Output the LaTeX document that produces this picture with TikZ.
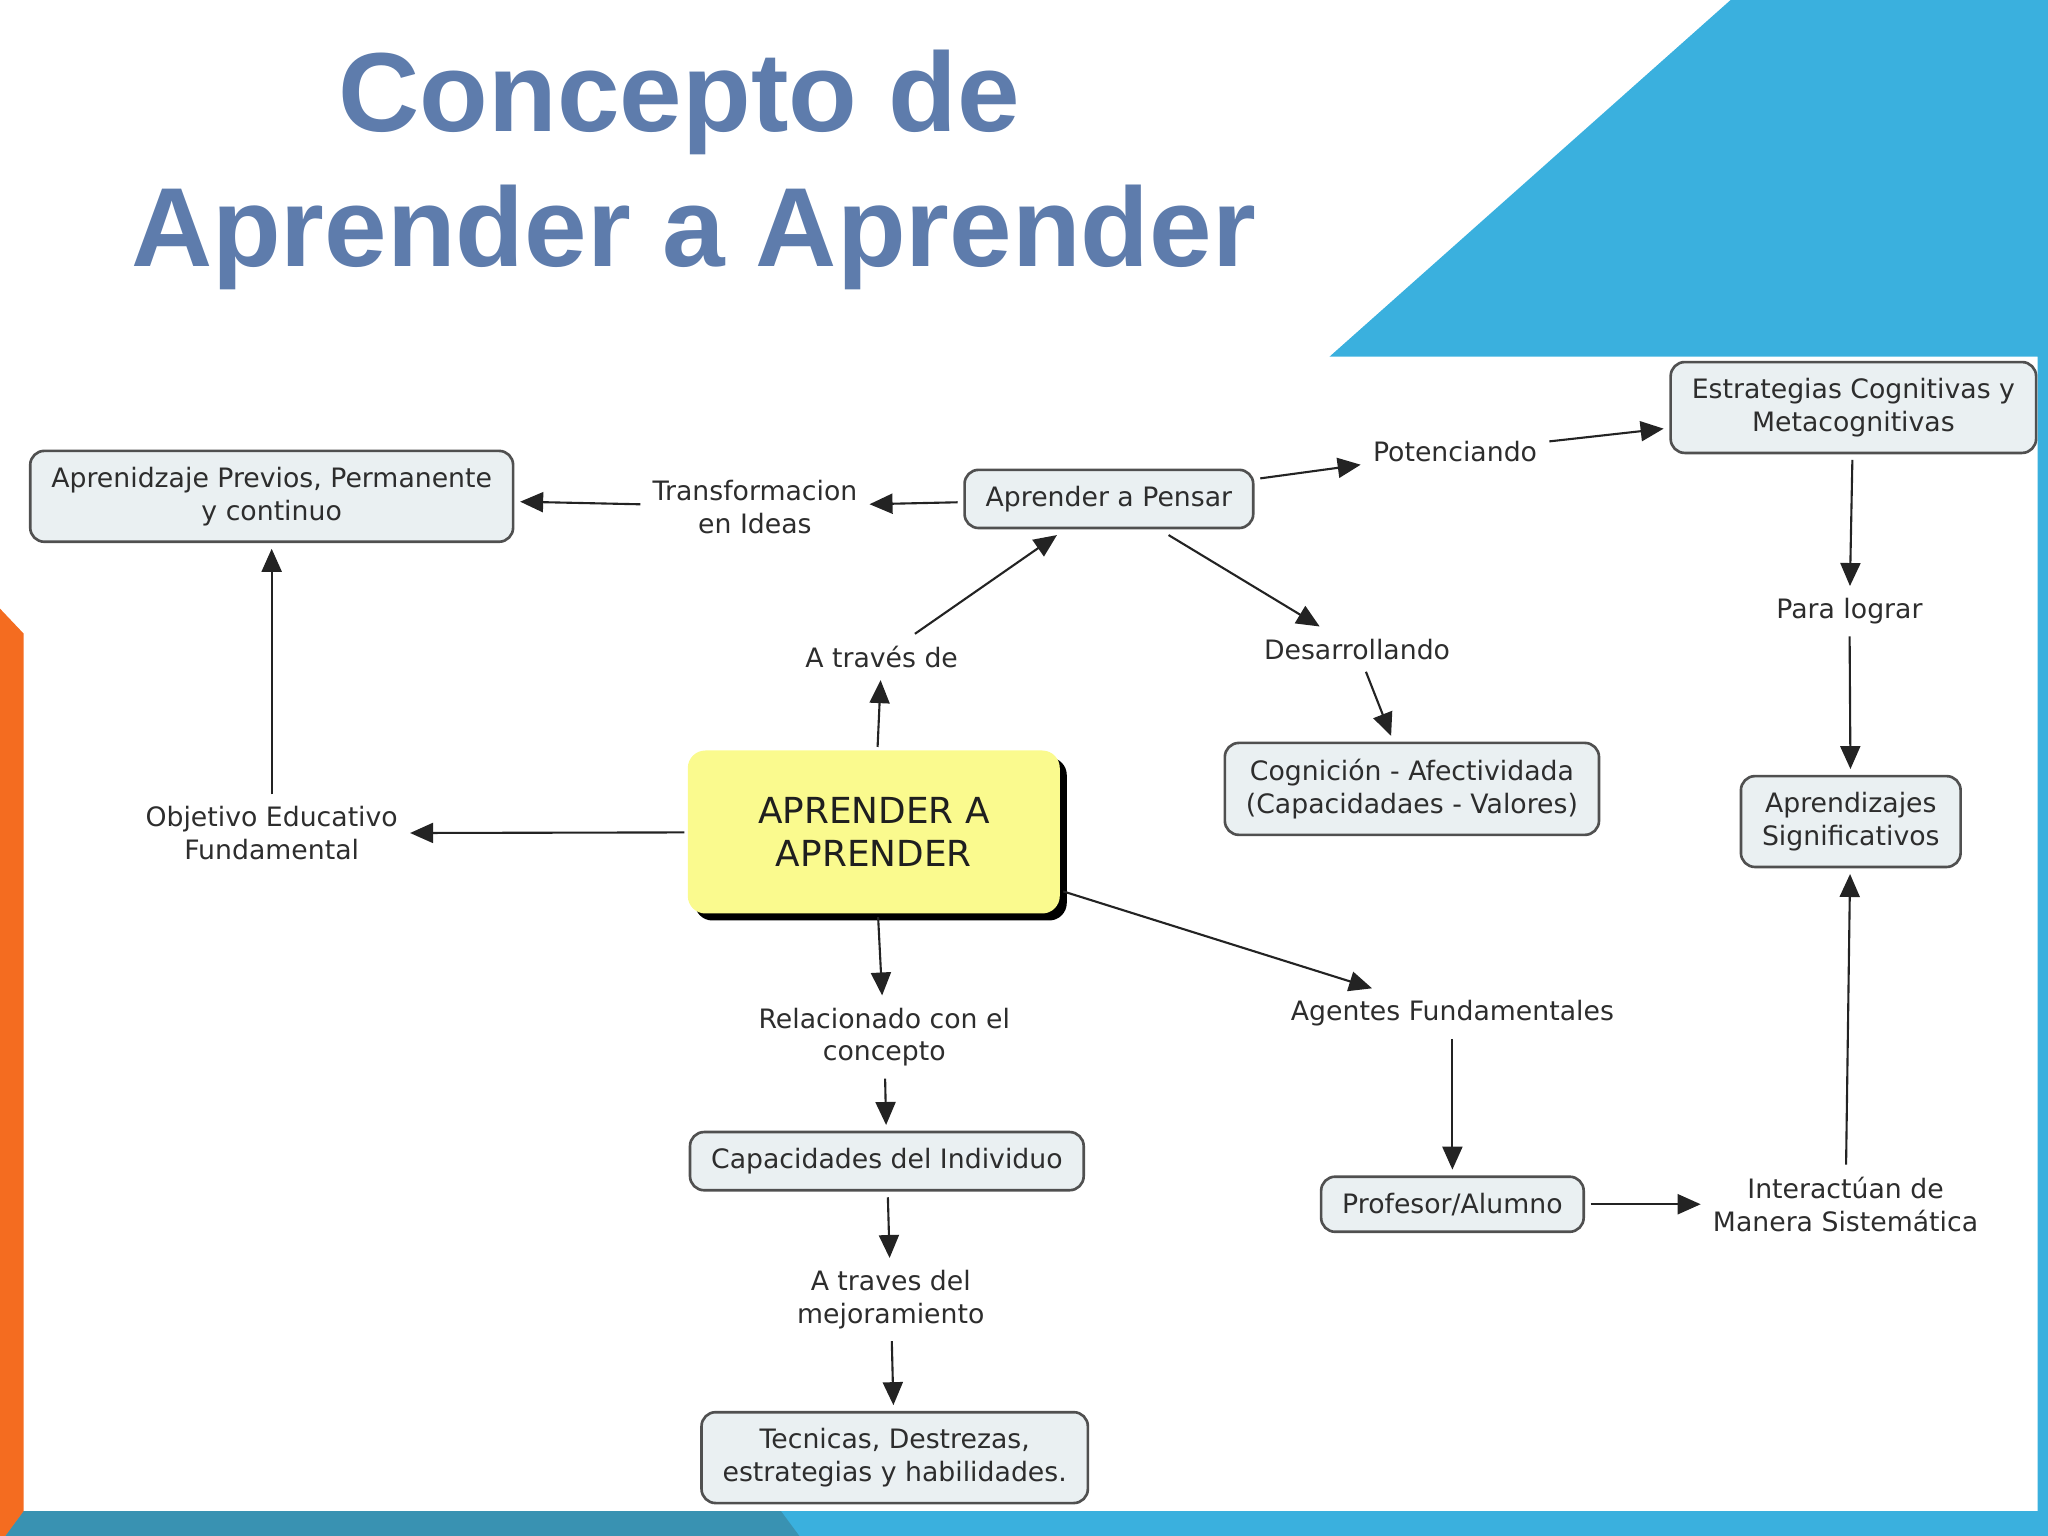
\documentclass[tikz,border=0pt]{standalone}
\usepackage{fontspec}
\setmainfont{DejaVu Sans}
\newfontfamily\titlefont{Liberation Sans}
\usetikzlibrary{arrows.meta,shadows}
\definecolor{slideblue}{RGB}{58,176,222}
\definecolor{slideteal}{RGB}{57,146,178}
\definecolor{slideorange}{RGB}{244,108,32}
\definecolor{boxfill}{RGB}{234,240,242}
\definecolor{boxline}{RGB}{80,80,80}
\definecolor{hubfill}{RGB}{250,250,142}
\definecolor{maptext}{RGB}{45,45,45}
\definecolor{linkgray}{RGB}{35,35,35}
\definecolor{titleblue}{RGB}{94,124,172}
\newcommand\cmapfont{\fontsize{7.6}{9.3}\selectfont}
\newcommand\hubfont{\fontsize{10.2}{12.3}\selectfont}
\tikzset{
  concept/.style={rectangle,rounded corners=4pt,draw=boxline,line width=0.75pt,
    fill=boxfill,align=center,inner xsep=6pt,inner ysep=4.6pt,outer sep=2pt,
    font=\cmapfont,text=maptext},
  hub/.style={rectangle,rounded corners=5pt,fill=hubfill,draw=none,align=center,
    minimum width=37.2mm,minimum height=16.3mm,font=\hubfont,text=black!88,
    outer sep=1pt,
    drop shadow={shadow xshift=0.7mm,shadow yshift=-0.7mm,opacity=1,fill=black}},
  phrase/.style={align=center,inner sep=2pt,outer sep=1.5pt,font=\cmapfont,
    text=maptext},
  link/.style={-{Triangle[length=2.3mm,width=2mm]},line width=0.6pt,draw=linkgray},
  heading/.style={font=\titlefont\bfseries\fontsize{32}{38}\selectfont,
    inner sep=0pt,anchor=base,text=titleblue}
}
\begin{document}
\begin{tikzpicture}[x=0.130612mm,y=-0.130612mm]
 \useasboundingbox (0,0) rectangle (1568,1176);
 % slide frame
 \fill[slideblue] (1325,0) -- (1568,0) -- (1568,1176) -- (0,1176) -- (0,1157)
   -- (1560,1157) -- (1560,273) -- (1018,273) -- cycle;
 \fill[slideteal] (18,1157) -- (598,1157) -- (612,1176) -- (4,1176) -- cycle;
 \fill[slideorange] (0,466) -- (18,485) -- (18,1157) -- (4,1176) -- (0,1176) -- cycle;

 % title
 \node[heading] (ttlA) at (520,101) {Concepto de};
 \node[heading] (ttlB) at (531,204) {Aprender a Aprender};

 % concepts
 \node[concept] (previos) at (208,380) {Aprenidzaje Previos, Permanente\\y continuo};
 \node[concept] (pensar) at (849,382) {Aprender a Pensar};
 \node[concept] (estrategias) at (1419,312) {Estrategias Cognitivas y\\Metacognitivas};
 \node[hub] (aprender) at (669,637) {APRENDER A\\APRENDER};
 \node[concept] (cognicion) at (1081,604) {Cognición - Afectividada\\(Capacidadaes - Valores)};
 \node[concept] (significativos) at (1417,629) {Aprendizajes\\Significativos};
 \node[concept] (capacidades) at (679,889) {Capacidades del Individuo};
 \node[concept] (profesor) at (1112,922) {Profesor/Alumno};
 \node[concept] (tecnicas) at (685,1116) {Tecnicas, Destrezas,\\estrategias y habilidades.};

 % linking phrases
 \node[phrase] (transf) at (578,388) {Transformacion\\en Ideas};
 \node[phrase] (potenc) at (1114,346) {Potenciando};
 \node[phrase] (atraves) at (675,503) {A través de};
 \node[phrase] (desarr) at (1039,497) {Desarrollando};
 \node[phrase] (para) at (1416,468) {Para lograr};
 \node[phrase] (objetivo) at (208,638) {Objetivo Educativo\\Fundamental};
 \node[phrase] (relac) at (677,794) {Relacionado con el\\concepto};
 \node[phrase] (agentes) at (1112,776) {Agentes Fundamentales};
 \node[phrase] (interact) at (1413,922) {Interactúan de\\Manera Sistemática};
 \node[phrase] (mejora) at (682,995) {A traves del\\mejoramiento};

 % links
 \draw[link] (aprender) -- (atraves);
 \draw[link] (atraves) -- (pensar);
 \draw[link] (pensar) -- (transf);
 \draw[link] (transf) -- (previos);
 \draw[link] (pensar) -- (potenc);
 \draw[link] (potenc) -- (estrategias);
 \draw[link] (pensar) -- (desarr);
 \draw[link] (desarr) -- (cognicion);
 \draw[link] (estrategias) -- (para);
 \draw[link] (para) -- (significativos);
 \draw[link] (aprender) -- (objetivo);
 \draw[link] (objetivo) -- (previos);
 \draw[link] (aprender) -- (relac);
 \draw[link] (relac) -- (capacidades);
 \draw[link] (capacidades) -- (mejora);
 \draw[link] (mejora) -- (tecnicas);
 \draw[link] (aprender) -- (agentes);
 \draw[link] (agentes) -- (profesor);
 \draw[link] (profesor) -- (interact);
 \draw[link] (interact) -- (significativos);
\end{tikzpicture}
\end{document}
